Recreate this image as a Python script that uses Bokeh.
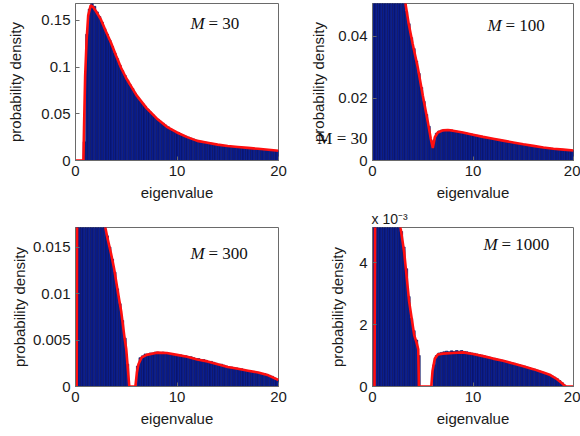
import numpy as np
from bokeh.plotting import figure
from bokeh.layouts import column, row
from bokeh.models import Range1d, FixedTicker, Label, LinearAxis, Title
from bokeh.embed import file_html
from bokeh.resources import INLINE

# ---------------- data ----------------
# histogram heights, 80 equal bins on [0, 20]
HIST_30 = [0, 0, 0, 0.02, 0.135, 0.162, 0.168, 0.165, 0.159, 0.154, 0.148, 0.141, 0.135, 0.129, 0.122, 0.115,
           0.109, 0.102, 0.096, 0.091, 0.086, 0.081, 0.077, 0.072, 0.068, 0.064, 0.061, 0.058, 0.055, 0.052,
           0.049, 0.046, 0.044, 0.042, 0.040, 0.038, 0.036, 0.034, 0.032, 0.031, 0.030, 0.028, 0.027, 0.026,
           0.025, 0.024, 0.023, 0.022, 0.021, 0.0205, 0.020, 0.0195, 0.019, 0.0185, 0.018, 0.0175, 0.017,
           0.0165, 0.016, 0.0158, 0.0155, 0.015, 0.0148, 0.0146, 0.0144, 0.014, 0.0138, 0.0136, 0.0133, 0.013,
           0.0128, 0.0126, 0.0124, 0.012, 0.0118, 0.0116, 0.0114, 0.011, 0.0108, 0.0105]
HIST_100 = [0.100, 0.120, 0.120, 0.110, 0.100, 0.090, 0.085, 0.080, 0.075, 0.070, 0.065, 0.060, 0.055,
            0.048, 0.044, 0.0395, 0.036, 0.032, 0.028, 0.0235, 0.019, 0.0148, 0.011, 0.006, 0.0065, 0.0088,
            0.0095, 0.0098, 0.0099, 0.0099, 0.0098, 0.0097, 0.0096, 0.0094, 0.0093, 0.0091, 0.0090, 0.0088,
            0.0086, 0.0085, 0.0083, 0.0081, 0.0079, 0.0078, 0.0076, 0.0074, 0.0073, 0.0071, 0.0070, 0.0068,
            0.0066, 0.0065, 0.0063, 0.0062, 0.0060, 0.0059, 0.0057, 0.0056, 0.0054, 0.0053, 0.0052, 0.0050,
            0.0049, 0.0048, 0.0047, 0.0045, 0.0044, 0.0043, 0.0042, 0.0041, 0.0040, 0.0039, 0.0038, 0.0037,
            0.0036, 0.0036, 0.0035, 0.0034, 0.0033, 0.0032]
HIST_300 = [0.030, 0.050, 0.045, 0.040, 0.036, 0.033, 0.030, 0.028, 0.026, 0.023, 0.021, 0.019,
            0.0162, 0.015, 0.0137, 0.0123, 0.0105, 0.0089, 0.0071, 0.0052, 0.0024, 0, 0, 0, 0.0022, 0.0031,
            0.0033, 0.0035, 0.0035, 0.0036, 0.0036, 0.0037, 0.0037, 0.0036, 0.0037, 0.0036, 0.0036, 0.0035,
            0.0035, 0.0034, 0.0034, 0.0034, 0.0033, 0.0033, 0.0032, 0.0032, 0.0031, 0.0030, 0.0030, 0.0029,
            0.0029, 0.0028, 0.0027, 0.0027, 0.0026, 0.0025, 0.0024, 0.0024, 0.0023, 0.0022, 0.0021, 0.0021,
            0.0020, 0.0020, 0.0019, 0.0019, 0.0018, 0.0017, 0.0017, 0.0016, 0.0016, 0.0015, 0.0015, 0.0014,
            0.0014, 0.0013, 0.0012, 0.0011, 0.0009, 0.0007]
# M = 1000 panel values are in units of 10^-3
HIST_1000 = [6.0, 20.0, 15.0, 12.0, 10.0, 9.0, 8.0, 7.5, 7.0, 6.5, 6.0, 5.0, 4.5, 3.8, 2.9, 2.2, 1.8, 1.5,
             1.0, 0, 0, 0, 0, 0, 0.7, 1.0, 1.08, 1.10, 1.12, 1.14, 1.12, 1.15, 1.13, 1.16, 1.14, 1.16, 1.13,
             1.12, 1.10, 1.08, 1.07, 1.05, 1.03, 1.01, 0.99, 0.97, 0.95, 0.93, 0.91, 0.89, 0.87, 0.85, 0.83,
             0.81, 0.79, 0.77, 0.75, 0.72, 0.70, 0.68, 0.66, 0.63, 0.61, 0.58, 0.56, 0.53, 0.50, 0.47, 0.44,
             0.41, 0.38, 0.34, 0.30, 0.25, 0.19, 0.12, 0.05, 0, 0, 0]

# theoretical densities (red curves)
CURVE_30_X = [0, 0.78, 0.85, 0.95, 1.1, 1.25, 1.5, 1.75, 2.0, 2.5, 3, 3.5, 4, 4.5, 5, 5.5, 6, 7, 8, 9,
              10, 11, 12, 13, 14, 15, 16, 17, 18, 19, 20]
CURVE_30_Y = [0, 0, 0.04, 0.09, 0.13, 0.155, 0.166, 0.164, 0.16, 0.151, 0.138, 0.126, 0.112, 0.099, 0.088,
              0.079, 0.070, 0.056, 0.045, 0.036, 0.030, 0.025, 0.021, 0.019, 0.017, 0.0155, 0.0145, 0.0135,
              0.0125, 0.0115, 0.0105]
CURVE_100_X = [3.0, 3.3, 3.6, 4.0, 4.5, 5.0, 5.5, 5.8, 6.0, 6.2, 6.5, 7.0, 7.5, 8.0, 9, 10, 11, 12, 13,
               14, 15, 16, 17, 18, 19, 20]
CURVE_100_Y = [0.058, 0.050, 0.044, 0.0375, 0.030, 0.021, 0.0125, 0.007, 0.004, 0.0075, 0.009, 0.0097,
               0.0098, 0.0096, 0.009, 0.0083, 0.0076, 0.007, 0.0064, 0.0058, 0.0052, 0.0047, 0.0042, 0.0038,
               0.0035, 0.0032]
CURVE_300_X = [0, 0.12, 0.2, 2.5, 2.96, 3.1, 3.5, 3.8, 4.2, 4.5, 4.8, 5.0, 5.15, 5.3, 5.9, 6.05, 6.2, 6.5,
               7.0, 8.0, 9, 10, 11, 12, 13, 14, 15, 16, 17, 18, 19, 20]
CURVE_300_Y = [0, 0, 0.04, 0.022, 0.017, 0.0162, 0.0143, 0.0127, 0.010, 0.0081, 0.0055, 0.004, 0.002, 0,
               0, 0.0015, 0.0024, 0.0031, 0.0034, 0.00364, 0.0036, 0.0034, 0.0032, 0.0029, 0.0027, 0.0024,
               0.0021, 0.0019, 0.0017, 0.0015, 0.0012, 0.0007]
CURVE_1000_X = [0.2, 0.3, 2.5, 2.8, 3.15, 3.65, 4.15, 4.4, 4.55, 4.62, 5.85, 5.97, 6.2, 6.5, 7.0, 8, 9,
                10, 11, 12, 13, 14, 15, 16, 17, 17.7, 18.3, 18.8, 19.2, 20]
CURVE_1000_Y = [0, 9.0, 6.0, 5.1, 4.34, 2.73, 1.66, 1.4, 1.2, 0, 0, 0.5, 0.9, 1.03, 1.06, 1.08, 1.10,
                1.05, 0.98, 0.90, 0.83, 0.74, 0.65, 0.56, 0.45, 0.37, 0.25, 0.12, 0, 0]

X_TICKS = [0, 10, 20]
X_TICK_LABELS = ["0", "10", "20"]
Y_TICKS_30 = [0, 0.05, 0.1, 0.15]
Y_TICK_LABELS_30 = ["0", "0.05", "0.1", "0.15"]
Y_TICKS_100 = [0, 0.02, 0.04]
Y_TICK_LABELS_100 = ["0", "0.02", "0.04"]
Y_TICKS_300 = [0, 0.005, 0.01, 0.015]
Y_TICK_LABELS_300 = ["0", "0.005", "0.01", "0.015"]
Y_TICKS_1000 = [0, 2, 4]
Y_TICK_LABELS_1000 = ["0", "2", "4"]

X_LABEL = "eigenvalue"
Y_LABEL = "probability density"
M_VALUES = ["30", "100", "300", "1000"]
SCALE_TEXT = "x 10\u207b\u00b3"
# stray "M = 30" text that overlaps the top-right panel's y label in the source image
STRAY_Y = [0.0072]
STRAY_TEXT = ["M = 30"]

# ---------------- styling ----------------
BAR_FILL = "#0b1f8f"
BAR_EDGE = "#060c55"
RED = "#ff0f0f"
AX = "#6a6a6a"
TXT = "#1a1a1a"
SANS = "Liberation Sans"
SERIF = "Liberation Serif"


def panel(hist, cx, cy, ytop, yticks, ylabels, w, h, bl, br, bt, bb, ystand):
    p = figure(width=w, height=h, x_range=Range1d(0, 20), y_range=Range1d(0, ytop),
               output_backend="svg", toolbar_location=None,
               min_border_left=bl, min_border_right=br, min_border_top=bt, min_border_bottom=bb)
    p.grid.visible = False
    p.outline_line_color = AX
    p.outline_line_width = 1
    edges = np.linspace(0, 20, len(hist) + 1)
    p.quad(left=edges[:-1], right=edges[1:], bottom=0, top=hist,
           fill_color=BAR_FILL, line_color=BAR_EDGE, line_width=0.6)
    p.line(cx, cy, line_color=RED, line_width=2.6)

    p.xaxis.ticker = FixedTicker(ticks=X_TICKS)
    p.xaxis.major_label_overrides = dict(zip(X_TICKS, X_TICK_LABELS))
    p.yaxis.ticker = FixedTicker(ticks=yticks)
    p.yaxis.major_label_overrides = dict(zip(yticks, ylabels))
    for ax in (p.xaxis[0], p.yaxis[0]):
        ax.major_tick_in = 4
        ax.major_tick_out = 0
        ax.minor_tick_in = 0
        ax.minor_tick_out = 0
        ax.axis_line_color = AX
        ax.major_tick_line_color = AX
        ax.major_label_text_font = SANS
        ax.major_label_text_font_size = "15px"
        ax.major_label_text_color = TXT
        ax.axis_label_text_font = SANS
        ax.axis_label_text_font_size = "15px"
        ax.axis_label_text_font_style = "normal"
        ax.axis_label_text_color = TXT
        ax.major_label_standoff = 5
    p.xaxis.axis_label = X_LABEL
    p.xaxis.axis_label_standoff = 5
    p.yaxis.axis_label = Y_LABEL
    p.yaxis.axis_label_standoff = ystand
    return p


def m_label(p, x, y, num):
    p.add_layout(Label(x=x, y=y, text="M", text_font=SERIF, text_font_style="italic",
                       text_font_size="17px", text_color="#111111"))
    p.add_layout(Label(x=x, y=y, x_offset=18, text="= " + num, text_font=SERIF,
                       text_font_size="17px", text_color="#111111"))


p1 = panel(HIST_30, CURVE_30_X, CURVE_30_Y, 0.168, Y_TICKS_30, Y_TICK_LABELS_30,
           290, 205, 75, 12, 3, 45, 14)
p2 = panel(HIST_100, CURVE_100_X, CURVE_100_Y, 0.0505, Y_TICKS_100, Y_TICK_LABELS_100,
           290, 205, 82, 7, 3, 45, 8)
p3 = panel(HIST_300, CURVE_300_X, CURVE_300_Y, 0.0171, Y_TICKS_300, Y_TICK_LABELS_300,
           290, 231, 75, 12, 22, 50, 2)
p4 = panel(HIST_1000, CURVE_1000_X, CURVE_1000_Y, 5.13, Y_TICKS_1000, Y_TICK_LABELS_1000,
           290, 231, 82, 7, 22, 50, 10)

m_label(p1, 11.33, 0.136, M_VALUES[0])
m_label(p2, 11.44, 0.0404, M_VALUES[1])
m_label(p3, 11.33, 0.0133, M_VALUES[2])
m_label(p4, 11.04, 4.26, M_VALUES[3])

# stray text left of the top-right panel: an outer label-only axis pulled back toward the frame
stray = LinearAxis(ticker=FixedTicker(ticks=STRAY_Y),
                   major_label_overrides=dict(zip(STRAY_Y, STRAY_TEXT)),
                   axis_line_color=None, major_tick_in=0, major_tick_out=0,
                   minor_tick_in=0, minor_tick_out=0, major_tick_line_color=None,
                   major_label_standoff=-60, major_label_text_font=SERIF,
                   major_label_text_font_size="17px", major_label_text_color="#111111")
p2.add_layout(stray, "left")

# exponent note of the M = 1000 panel
p4.add_layout(Title(text=SCALE_TEXT, align="left", text_font=SANS, text_font_size="14px",
                    text_font_style="normal", text_color=TXT, standoff=1, offset=-1), "above")

layout = column(row(p1, p2), row(p3, p4))
open("out.html", "w").write(file_html(layout, INLINE))
